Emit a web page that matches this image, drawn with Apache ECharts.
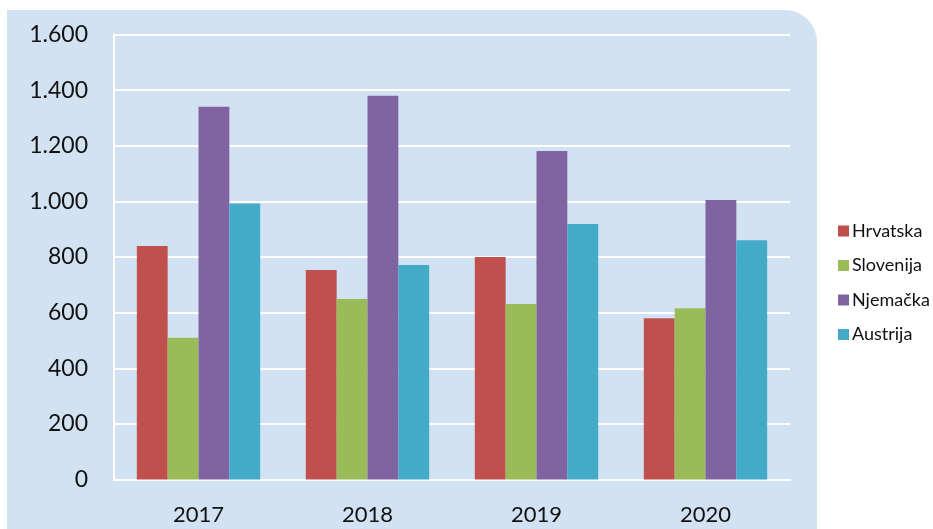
<!DOCTYPE html>
<html>
<head>
<meta charset="utf-8">
<script src="https://cdn.jsdelivr.net/npm/echarts@6/dist/echarts.min.js"></script>
<style>
  html, body { margin: 0; padding: 0; background: #fff; }
  #chart { width: 933px; height: 529px; }
</style>
</head>
<body>
<div id="chart"></div>
<script>
// Years on the category axis
const years = ['2017', '2018', '2019', '2020'];

// Values per country
const hrvatska = [840, 753, 800, 580];
const slovenija = [510, 649, 631, 616];
const njemacka = [1340, 1380, 1181, 1005];
const austrija = [992, 771, 919, 860];

const seriesNames = ['Hrvatska', 'Slovenija', 'Njemačka', 'Austrija'];
const seriesColors = ['#C0504D', '#9BBB59', '#8064A2', '#43ABC8'];
const seriesData = [hrvatska, slovenija, njemacka, austrija];

const fontFamily = 'Lato, "Open Sans", sans-serif';

function thousands(v) {
  return String(v).replace(/\B(?=(\d{3})+(?!\d))/g, '.');
}

const chart = echarts.init(document.getElementById('chart'), null, { renderer: 'canvas' });

chart.setOption({
  animation: false,
  backgroundColor: '#ffffff',
  graphic: [{
    type: 'rect',
    left: 7,
    top: 10,
    z: -10,
    silent: true,
    shape: { width: 810, height: 530, r: [0, 32, 0, 0] },
    style: { fill: '#D3E2F2' }
  }],
  grid: { left: 114, right: 143, top: 34.5, bottom: 49.5 },
  legend: {
    orient: 'vertical',
    left: 833,
    top: 215,
    icon: 'rect',
    itemWidth: 11,
    itemHeight: 11,
    itemGap: 12.5,
    textStyle: { fontFamily, fontSize: 18, color: '#111', lineHeight: 22, padding: [0, 0, 0, -2] },
    data: seriesNames
  },
  xAxis: {
    type: 'category',
    data: years,
    axisLine: { lineStyle: { color: '#ffffff', width: 2 } },
    axisTick: { show: false },
    axisLabel: { fontFamily, fontSize: 22, color: '#111', margin: 24 }
  },
  yAxis: {
    type: 'value',
    min: 0,
    max: 1600,
    interval: 200,
    axisLine: { show: true, lineStyle: { color: '#ffffff', width: 2 } },
    axisTick: { show: false },
    splitLine: { lineStyle: { color: '#ffffff', width: 2 } },
    axisLabel: { fontFamily, fontSize: 23, color: '#111', margin: 26, formatter: thousands }
  },
  series: seriesNames.map((name, i) => ({
    name,
    type: 'bar',
    data: seriesData[i],
    barGap: '0%',
    barCategoryGap: '27%',
    itemStyle: { color: seriesColors[i] }
  }))
});
</script>
</body>
</html>
